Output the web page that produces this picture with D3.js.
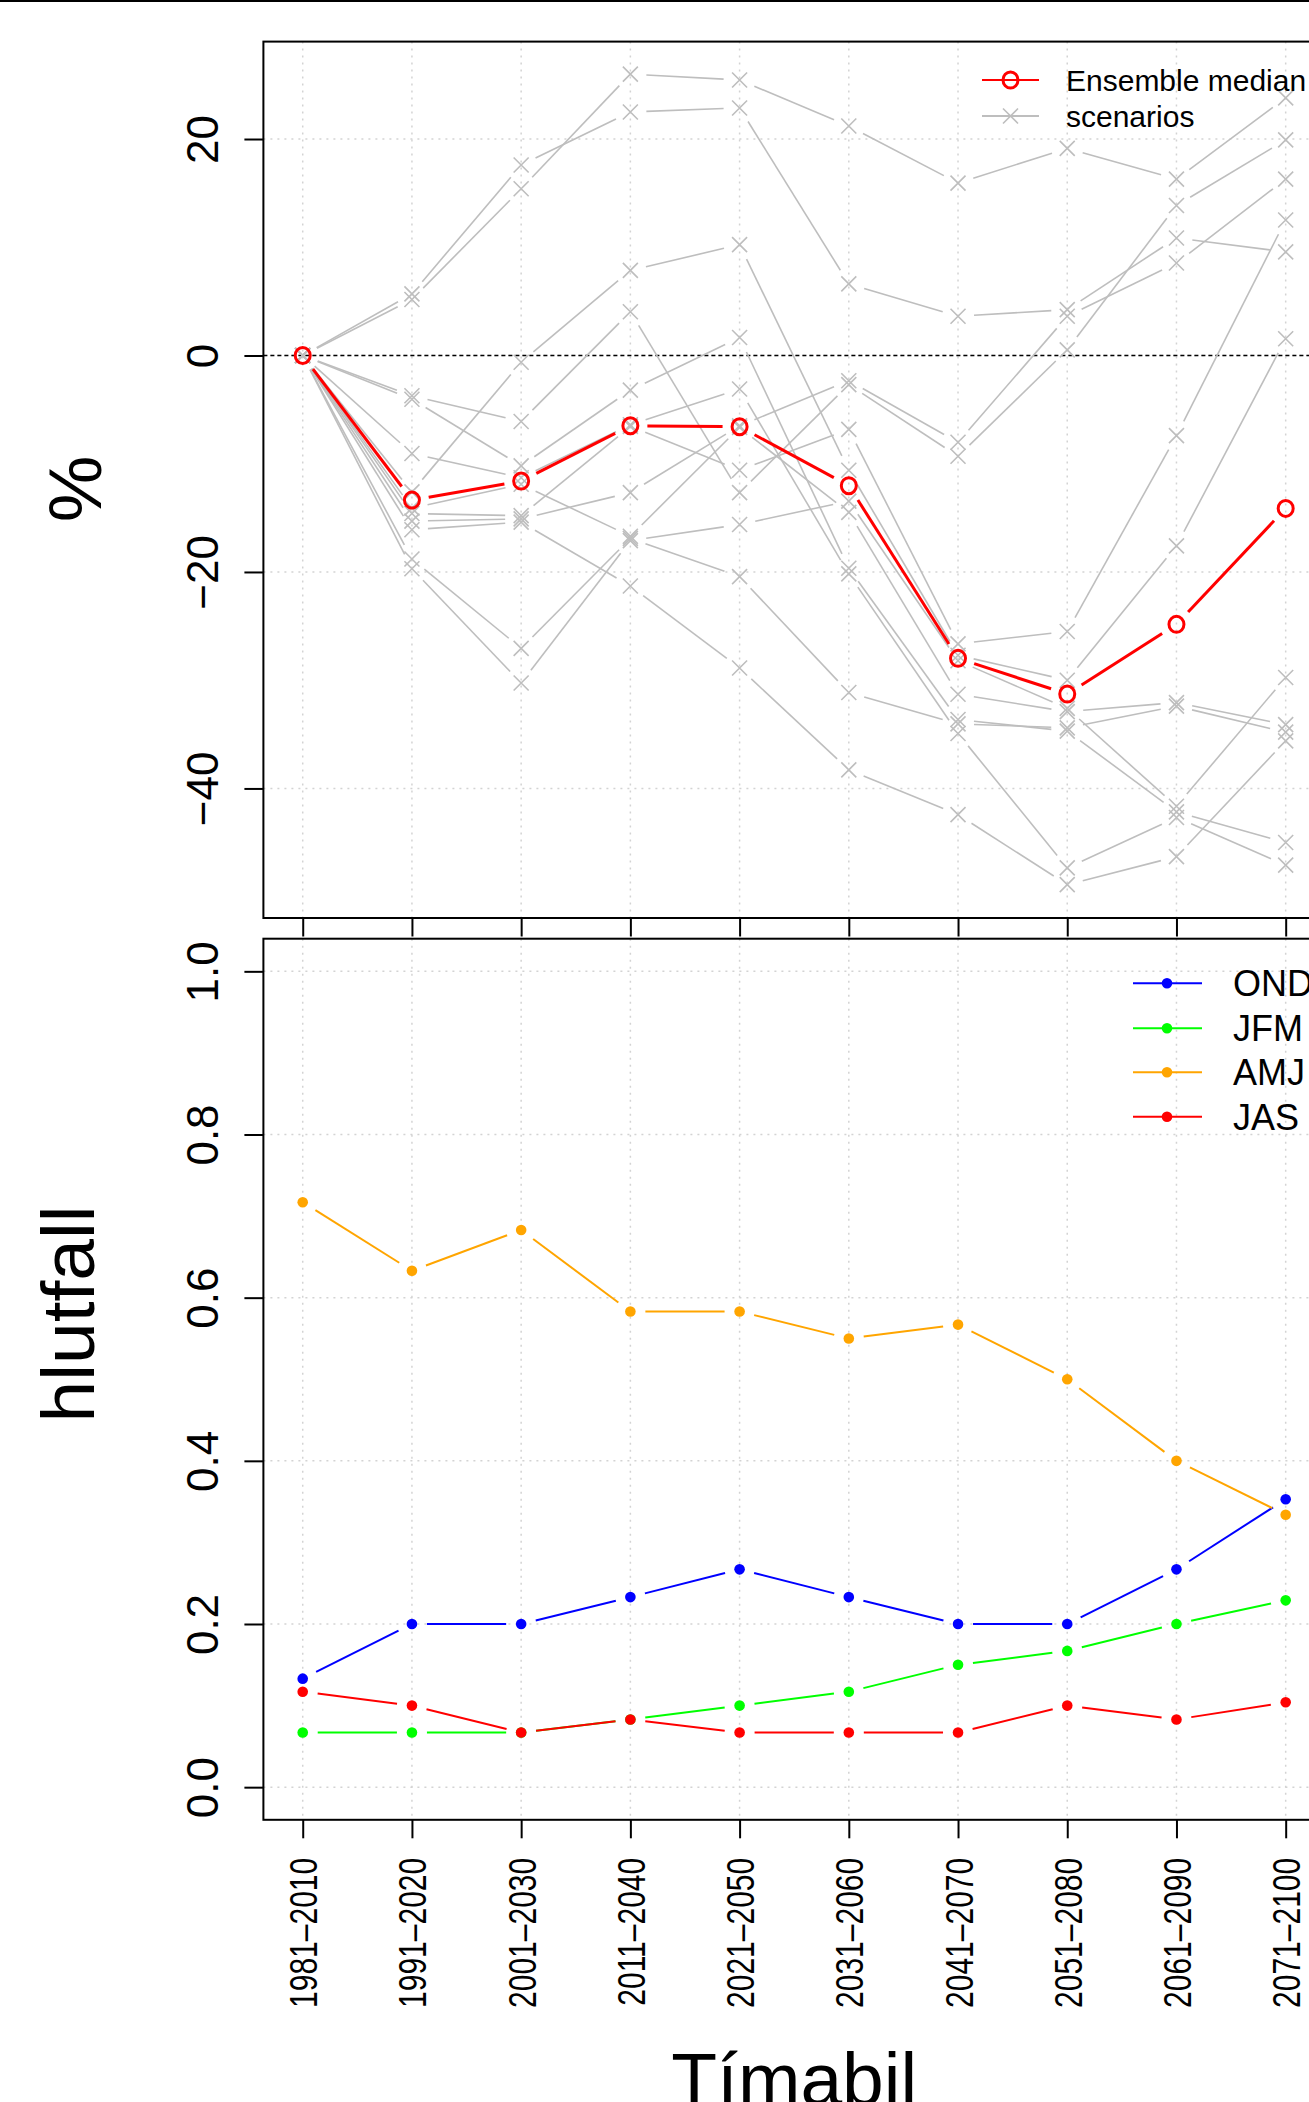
<!DOCTYPE html>
<html>
<head>
<meta charset="utf-8">
<script src="https://cdn.jsdelivr.net/npm/d3@7"></script>
<style>
	body { margin: 0; background: #fff; }
	svg { display: block; font-family: "Liberation Sans", Arial, Helvetica, sans-serif; }
</style>
</head>
<body>
<div id="chart"></div>
<script>

// periods on the x axis
var periods = ["1981–2010", "1991–2020", "2001–2030", "2011–2040", "2021–2050",
	"2031–2060", "2041–2070", "2051–2080", "2061–2090", "2071–2100"];
var idx = [1, 2, 3, 4, 5, 6, 7, 8, 9, 10];

// top panel: change in % (ensemble median + 12 scenarios)
var medianChange = [0, -13.36, -11.6, -6.49, -6.58, -12.03, -27.98, -31.28, -24.84, -14.13];
var scen01 = [0, 5.69, 17.6, 22.5, 22.87, 6.62, 3.62, 4.24, 10.86, 9.57];
var scen02 = [0, 5.17, 15.4, 26.0, 25.45, 21.2, 15.93, 19.14, 16.3, 23.8];
var scen03 = [0, -3.72, -6.1, 4.04, -12.67, -2.69, -9.31, 0.52, 13.86, 19.92];
var scen04 = [0, -4.04, -10.2, -3.2, 1.66, -19.66, -33.63, -34.7, -42.16, -45.0];
var scen05 = [0, -9.05, -11.3, -6.4, -3.1, -20.18, -34.92, -47.34, -42.68, -47.08];
var scen06 = [0, -12.6, -0.62, 7.86, 10.24, -10.6, -27.7, -30.0, -17.59, 1.55];
var scen07 = [0, -14.1, -11.9, -16.7, -6.65, -14.49, -31.3, -32.9, -32.07, -34.1];
var scen08 = [0, -14.6, -14.8, -6.55, -10.6, -6.83, -26.64, -25.5, -7.4, 12.52];
var scen09 = [0, -15.3, -15.1, -12.67, -6.5, -2.33, -8.02, 3.62, 8.54, 16.3];
var scen10 = [0, -16.1, -15.4, -21.3, -28.87, -38.28, -42.42, -48.89, -46.3, -35.6];
var scen11 = [0, -18.8, -27.06, -16.9, -20.43, -31.14, -34.04, -34.4, -32.4, -34.8];
var scen12 = [0, -19.7, -30.26, -17.1, -15.62, -13.45, -28.2, -32.6, -41.65, -29.75];
var scenarios = [scen01, scen02, scen03, scen04, scen05, scen06,
	scen07, scen08, scen09, scen10, scen11, scen12];
var pctTicks = [-40, -20, 0, 20];
var pctLabels = ["−40", "−20", "0", "20"];

// bottom panel: share per season
var ond = [0.133, 0.200, 0.200, 0.233, 0.267, 0.233, 0.200, 0.200, 0.267, 0.353];
var jfm = [0.067, 0.067, 0.067, 0.083, 0.100, 0.117, 0.150, 0.167, 0.200, 0.229];
var amj = [0.717, 0.633, 0.683, 0.583, 0.583, 0.550, 0.567, 0.500, 0.400, 0.334];
var jas = [0.117, 0.100, 0.067, 0.083, 0.067, 0.067, 0.067, 0.100, 0.083, 0.104];
var seasonNames = ["OND", "JFM", "AMJ", "JAS"];
var seasonColors = ["#0000ff", "#00ff00", "#ffa500", "#ff0000"];
var fracTicks = [0, 0.2, 0.4, 0.6, 0.8, 1.0];
var fracLabels = ["0.0", "0.2", "0.4", "0.6", "0.8", "1.0"];

var config = {
	width : 1309,
	height : 2102,
	left : 263.4,
	right : 1325,
	top1 : 41.6,
	bottom1 : 918,
	top2 : 938.7,
	bottom2 : 1819.8,
	gray : "#bebebe",
	grid : "#d3d3d3",
	tickLen : 19
};

var svg = d3.select("#chart").append("svg")
	.attr("width", config.width)
	.attr("height", config.height);

svg.append("rect").attr("width", config.width).attr("height", config.height).attr("fill", "#fff");

var x = d3.scaleLinear().domain([0.64, 10.36]).range([config.left, config.right]);
var yPct = d3.scaleLinear().domain([-51.97, 29.0]).range([config.bottom1, config.top1]);
var yFrac = d3.scaleLinear().domain([-0.04, 1.04]).range([config.bottom2, config.top2]);

// line pieces with a gap round each point (like type = "b")
function gapSegments(values, y, gap) {
	var pts = values.map(function(v, i){ return [x(i + 1), y(v)]; });
	return d3.pairs(pts).map(function(p){
		var dx = p[1][0] - p[0][0], dy = p[1][1] - p[0][1],
			len = Math.sqrt(dx * dx + dy * dy);
		if (len <= 2 * gap) return null;
		var ux = dx / len, uy = dy / len;
		return [p[0][0] + ux * gap, p[0][1] + uy * gap, p[1][0] - ux * gap, p[1][1] - uy * gap];
	}).filter(Boolean);
}

function drawSegments(g, segs, color, width) {
	g.selectAll(null).data(segs).enter().append("line")
		.attr("x1", function(d){ return d[0]; })
		.attr("y1", function(d){ return d[1]; })
		.attr("x2", function(d){ return d[2]; })
		.attr("y2", function(d){ return d[3]; })
		.attr("stroke", color)
		.attr("stroke-width", width);
}

function grid(g, y, values, y0, y1) {
	g.selectAll(null).data(idx).enter().append("line")
		.attr("x1", function(d){ return x(d); }).attr("x2", function(d){ return x(d); })
		.attr("y1", y0).attr("y2", y1)
		.attr("stroke", config.grid).attr("stroke-width", 1.5).attr("stroke-dasharray", "2,5");
	g.selectAll(null).data(values).enter().append("line")
		.attr("x1", config.left).attr("x2", config.right)
		.attr("y1", function(d){ return y(d); }).attr("y2", function(d){ return y(d); })
		.attr("stroke", config.grid).attr("stroke-width", 1.5).attr("stroke-dasharray", "2,5");
}

function leftAxis(g, scale, values, labels) {
	g.attr("transform", "translate(" + config.left + ",0)")
		.call(d3.axisLeft(scale).tickValues(values).tickSize(config.tickLen).tickSizeOuter(0)
			.tickFormat(function(d){ return labels[values.indexOf(d)]; }));
	g.attr("font-family", null).attr("font-size", null);
	g.select(".domain").remove();
	g.selectAll(".tick line").attr("stroke", "#000").attr("stroke-width", 2);
	g.selectAll(".tick text")
		.attr("x", null).attr("dy", null)
		.attr("transform", "translate(-45.4,0) rotate(-90)")
		.attr("text-anchor", "middle")
		.attr("font-size", 44)
		.attr("fill", "#000");
}

function bottomAxis(g, yPos, withLabels) {
	g.attr("transform", "translate(0," + yPos + ")")
		.call(d3.axisBottom(x).tickValues(idx).tickSize(18.5).tickSizeOuter(0)
			.tickFormat(function(d){ return withLabels ? periods[d - 1] : ""; }));
	g.attr("font-family", null).attr("font-size", null);
	g.select(".domain").remove();
	g.selectAll(".tick line").attr("stroke", "#000").attr("stroke-width", 2);
	g.selectAll(".tick text")
		.attr("y", null).attr("dy", null)
		.attr("transform", "translate(14,38) rotate(-90) scale(1,1.3)")
		.attr("text-anchor", "end")
		.attr("font-size", 30)
		.attr("fill", "#000");
}

function xMark(g, cx, cy, color) {
	g.append("path")
		.attr("d", "M-7.5,-7.5L7.5,7.5M-7.5,7.5L7.5,-7.5")
		.attr("transform", "translate(" + cx + "," + cy + ")")
		.attr("stroke", color).attr("stroke-width", 1.6).attr("fill", "none");
}

function ring(g, cx, cy) {
	g.append("ellipse")
		.attr("cx", cx).attr("cy", cy).attr("rx", 7.5).attr("ry", 8)
		.attr("fill", "none").attr("stroke", "#ff0000").attr("stroke-width", 3);
}

// ---------- top panel ----------
var panel1 = svg.append("g");
grid(panel1, yPct, pctTicks, config.top1, config.bottom1);

panel1.append("line")
	.attr("x1", config.left).attr("x2", config.right)
	.attr("y1", yPct(0)).attr("y2", yPct(0))
	.attr("stroke", "#000").attr("stroke-width", 1.4).attr("stroke-dasharray", "4,3");

scenarios.forEach(function(s){
	drawSegments(panel1, gapSegments(s, yPct, 16), config.gray, 1.6);
	s.forEach(function(v, i){ xMark(panel1, x(i + 1), yPct(v), config.gray); });
});

drawSegments(panel1, gapSegments(medianChange, yPct, 17), "#ff0000", 3);
medianChange.forEach(function(v, i){ ring(panel1, x(i + 1), yPct(v)); });

panel1.append("rect")
	.attr("x", config.left).attr("y", config.top1)
	.attr("width", config.right - config.left).attr("height", config.bottom1 - config.top1)
	.attr("fill", "none").attr("stroke", "#000").attr("stroke-width", 2);

leftAxis(svg.append("g"), yPct, pctTicks, pctLabels);
bottomAxis(svg.append("g"), config.bottom1, false);

// legend top
var leg1 = svg.append("g");
leg1.append("line").attr("x1", 982).attr("x2", 1039).attr("y1", 80).attr("y2", 80)
	.attr("stroke", "#ff0000").attr("stroke-width", 2);
ring(leg1, 1010.5, 80);
leg1.append("line").attr("x1", 982).attr("x2", 1039).attr("y1", 116).attr("y2", 116)
	.attr("stroke", config.gray).attr("stroke-width", 2);
xMark(leg1, 1010.5, 116, config.gray);
leg1.selectAll(null).data(["Ensemble median", "scenarios"]).enter().append("text")
	.attr("x", 1066)
	.attr("y", function(d, i){ return 80 + i * 36 + 10.8; })
	.attr("font-size", 30)
	.text(function(d){ return d; });

// ---------- bottom panel ----------
var panel2 = svg.append("g");
grid(panel2, yFrac, fracTicks, config.top2, config.bottom2);

[ond, jfm, amj, jas].forEach(function(s, k){
	drawSegments(panel2, gapSegments(s, yFrac, 15), seasonColors[k], 2);
	panel2.selectAll(null).data(s).enter().append("circle")
		.attr("cx", function(d, i){ return x(i + 1); })
		.attr("cy", function(d){ return yFrac(d); })
		.attr("r", 5.3)
		.attr("fill", seasonColors[k]);
});

panel2.append("rect")
	.attr("x", config.left).attr("y", config.top2)
	.attr("width", config.right - config.left).attr("height", config.bottom2 - config.top2)
	.attr("fill", "none").attr("stroke", "#000").attr("stroke-width", 2);

leftAxis(svg.append("g"), yFrac, fracTicks, fracLabels);
bottomAxis(svg.append("g"), config.bottom2, true);

// legend bottom
var leg2 = svg.append("g");
var legY = [983.3, 1028.3, 1072.3, 1116.7];
seasonNames.forEach(function(name, k){
	leg2.append("line").attr("x1", 1133).attr("x2", 1202).attr("y1", legY[k]).attr("y2", legY[k])
		.attr("stroke", seasonColors[k]).attr("stroke-width", 2);
	leg2.append("circle").attr("cx", 1167).attr("cy", legY[k]).attr("r", 5.3).attr("fill", seasonColors[k]);
	leg2.append("text").attr("x", 1233).attr("y", legY[k] + 13).attr("font-size", 36).text(name);
});

// axis titles
svg.append("text")
	.attr("transform", "translate(101,489) rotate(-90)")
	.attr("text-anchor", "middle").attr("font-size", 75).text("%");
svg.append("text")
	.attr("transform", "translate(94,1314) rotate(-90)")
	.attr("text-anchor", "middle").attr("font-size", 75).text("hlutfall");
svg.append("text")
	.attr("x", (config.left + config.right) / 2).attr("y", 2105)
	.attr("text-anchor", "middle").attr("font-size", 75).text("Tímabil");

// frame line along the very top
svg.append("line").attr("x1", 0).attr("x2", config.width).attr("y1", 1).attr("y2", 1)
	.attr("stroke", "#000").attr("stroke-width", 2);

</script>
</body>
</html>
